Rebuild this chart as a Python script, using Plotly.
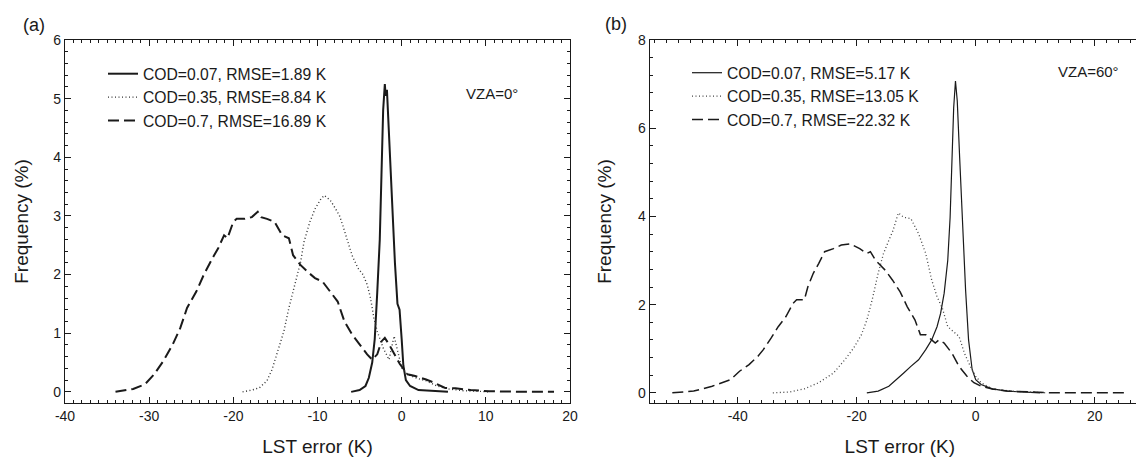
import plotly.graph_objects as go

W, H = 1144, 459

# ---------------- data: panel (a) VZA=0 ----------------
A_SOLID_X = [-6.0, -5.0, -4.3, -3.9, -3.5, -3.2, -2.9, -2.6, -2.4, -2.2, -2.0, -1.9, -1.75, -1.5, -1.2,
             -0.8, -0.5, -0.25, 0.0, 0.2, 0.5, 1.0, 2.0, 4.0, 5.5]
A_SOLID_Y = [0, 0.03, 0.1, 0.24, 0.5, 0.9, 1.7, 2.6, 3.7, 4.8, 5.25, 5.05, 5.15, 4.4, 3.3,
             2.2, 1.5, 1.4, 0.9, 0.45, 0.2, 0.1, 0.03, 0.01, 0]

A_DOT_X = [-18.9, -17.8, -16.9, -16.0, -15.4, -14.7, -14.0, -13.4, -12.7, -12.0, -11.6, -10.9, -10.3, -9.6,
           -9.2, -8.5, -8.1, -7.4, -7.0, -6.5, -5.9, -5.2, -4.6, -4.1, -3.7, -3.3, -2.9, -2.2, -1.5, -0.9,
           -0.4, 0.0, 0.7, 1.6, 2.9, 4.2, 5.5, 7.3, 9.1, 10.4]
A_DOT_Y = [0, 0.03, 0.07, 0.19, 0.38, 0.69, 1.03, 1.43, 1.83, 2.22, 2.56, 2.9, 3.12, 3.29,
           3.35, 3.27, 3.18, 3.01, 2.84, 2.62, 2.33, 2.11, 2.0, 1.83, 1.6, 1.26, 1.03, 0.75, 0.55, 0.95,
           0.64, 0.41, 0.3, 0.24, 0.19, 0.1, 0.05, 0.02, 0.01, 0]

A_DASH_X = [-34.0, -31.9, -30.5, -29.4, -28.3, -27.2, -26.3, -25.5, -24.4, -23.5, -22.4, -21.8, -21.1,
            -20.7, -20.0, -19.6, -18.7, -17.8, -17.1, -16.7, -16.0, -15.1, -14.2, -13.4, -12.9, -12.0,
            -11.2, -10.3, -9.4, -8.5, -7.6, -6.8, -5.9, -5.0, -4.1, -3.5, -2.9, -2.4, -2.0, -1.5, -0.9,
            -0.2, 0.7, 1.6, 2.9, 3.8, 5.1, 6.4, 8.2, 10.4, 14.8, 18.1]
A_DASH_Y = [0, 0.05, 0.13, 0.3, 0.53, 0.81, 1.09, 1.43, 1.71, 2.0, 2.3, 2.45, 2.67,
            2.62, 2.9, 2.95, 2.95, 2.98, 3.07, 2.98, 2.95, 2.9, 2.67, 2.62, 2.33, 2.16,
            2.05, 1.94, 1.88, 1.71, 1.54, 1.2, 0.98, 0.81, 0.64, 0.55, 0.64, 0.86, 0.92, 0.81, 0.64,
            0.47, 0.3, 0.27, 0.21, 0.16, 0.07, 0.06, 0.03, 0.01, 0, 0]

A_NAMES = ["COD=0.07, RMSE=1.89 K", "COD=0.35, RMSE=8.84 K", "COD=0.7, RMSE=16.89 K"]
A_XTICKS = [-40, -30, -20, -10, 0, 10, 20]
A_XTICK_TEXT = ["-40", "-30", "-20", "-10", "0", "10", "20"]
A_YTICKS = [0, 1, 2, 3, 4, 5, 6]

# ---------------- data: panel (b) VZA=60 ----------------
B_SOLID_X = [-18.3, -16.4, -14.6, -13.3, -12.1, -10.9, -9.6, -8.4, -7.4, -6.5, -5.9, -5.3, -4.7, -4.3,
             -4.0, -3.7, -3.4, -3.1, -2.7, -2.2, -1.7, -1.2, -0.6, 0.0, 0.9, 2.8, 5.3, 7.7, 10.8]
B_SOLID_Y = [0, 0.04, 0.15, 0.3, 0.45, 0.6, 0.75, 0.98, 1.2, 1.5, 1.8, 2.26, 3.0, 3.98,
             5.34, 6.47, 7.07, 6.62, 5.34, 3.83, 2.33, 1.2, 0.53, 0.3, 0.19, 0.09, 0.04, 0.02, 0]

B_DOT_X = [-34.1, -31.3, -28.8, -26.4, -23.9, -22.0, -20.5, -19.2, -18.3, -17.4, -16.4, -15.5, -14.6,
           -13.9, -13.0, -12.1, -10.9, -9.6, -8.4, -7.4, -6.5, -5.6, -4.7, -3.7, -2.8, -1.9, -0.9, 0.0,
           0.9, 2.8, 5.9, 9.0, 12.1]
B_DOT_Y = [0, 0.02, 0.09, 0.23, 0.45, 0.75, 1.02, 1.32, 1.65, 2.11, 2.71, 3.16, 3.46,
           3.68, 4.08, 3.98, 3.95, 3.61, 3.16, 2.56, 2.18, 1.92, 1.5, 1.39, 1.28, 0.9, 0.6, 0.38,
           0.23, 0.09, 0.04, 0.02, 0]

B_DASH_X = [-51.0, -47.4, -44.3, -41.2, -39.7, -38.1, -36.6, -35.7, -34.4, -33.2, -31.9, -30.7, -30.1,
            -28.8, -28.2, -27.3, -26.4, -25.4, -23.9, -22.6, -21.1, -19.5, -18.3, -17.7, -16.8, -15.2,
            -14.0, -12.7, -11.5, -10.2, -9.3, -8.4, -7.4, -6.8, -6.2, -5.3, -4.0, -2.8, -1.5, -0.3,
            0.9, 2.8, 5.3, 8.4, 13.3, 25.7]
B_DASH_Y = [0, 0.04, 0.15, 0.3, 0.49, 0.64, 0.83, 0.98, 1.24, 1.5, 1.73, 2.03, 2.11,
            2.11, 2.41, 2.71, 2.93, 3.2, 3.27, 3.35, 3.38, 3.27, 3.16, 3.2, 3.0, 2.78,
            2.56, 2.29, 1.95, 1.65, 1.32, 1.32, 1.2, 1.13, 1.2, 1.13, 0.9, 0.6, 0.38, 0.23,
            0.15, 0.09, 0.04, 0.02, 0, 0]

B_NAMES = ["COD=0.07, RMSE=5.17 K", "COD=0.35, RMSE=13.05 K", "COD=0.7, RMSE=22.32 K"]
B_XTICKS = [-40, -20, 0, 20]
B_XTICK_TEXT = ["-40", "-20", "0", "20"]
B_YTICKS = [0, 2, 4, 6, 8]

X_TITLE = "LST error (K)"
Y_TITLE = "Frequency (%)"
PANEL_LABELS = ["(a)", "(b)"]
VZA_LABELS = ["VZA=0°", "VZA=60°"]

FONT = "Arial, 'Liberation Sans', sans-serif"
INK = "#1a1a1a"

fig = go.Figure()

def add(x, y, name, dash, width, xa, ya, leg, color=INK):
    fig.add_trace(go.Scatter(x=x, y=y, mode="lines", name=name,
                             line=dict(color=color, width=width, dash=dash),
                             xaxis=xa, yaxis=ya, legend=leg, hoverinfo="x+y"))

add(A_SOLID_X, A_SOLID_Y, A_NAMES[0], "solid", 2.0, "x", "y", "legend")
add(A_DOT_X, A_DOT_Y, A_NAMES[1], "1px,2.5px", 1.4, "x", "y", "legend", "#333")
add(A_DASH_X, A_DASH_Y, A_NAMES[2], "11px,5px", 2.0, "x", "y", "legend")

add(B_SOLID_X, B_SOLID_Y, B_NAMES[0], "solid", 1.2, "x2", "y2", "legend2")
add(B_DOT_X, B_DOT_Y, B_NAMES[1], "1px,2.5px", 1.3, "x2", "y2", "legend2", "#444")
add(B_DASH_X, B_DASH_Y, B_NAMES[2], "11px,5px", 1.5, "x2", "y2", "legend2")

ydom = [1 - 395 / H, 1 - 32 / H]

def axis_common():
    return dict(showline=True, linecolor=INK, linewidth=1.3, mirror="allticks",
                ticks="inside", ticklen=6, tickwidth=1, tickcolor=INK,
                showgrid=False, zeroline=False, automargin=False,
                tickfont=dict(family=FONT, size=14, color=INK),
                title_font=dict(family=FONT, size=19, color=INK))

fig.update_layout(
    template="none",
    width=W, height=H,
    margin=dict(l=0, r=0, t=0, b=0, pad=0, autoexpand=False),
    paper_bgcolor="white", plot_bgcolor="white",
    font=dict(family=FONT, color=INK),
    showlegend=True,
    xaxis=dict(domain=[57 / W, 562 / W], range=[-40, 20], anchor="y",
               tickvals=A_XTICKS, ticktext=A_XTICK_TEXT,
               minor=dict(ticks="inside", ticklen=3, dtick=1, tick0=0, tickcolor=INK, showgrid=False),
               title=dict(text=X_TITLE, standoff=16),
               **axis_common()),
    yaxis=dict(domain=ydom, range=[-0.19, 6], anchor="x",
               tickvals=A_YTICKS,
               minor=dict(ticks="inside", ticklen=3, dtick=0.2, tick0=0, tickcolor=INK, showgrid=False),
               title=dict(text=Y_TITLE, standoff=19),
               **axis_common()),
    xaxis2=dict(domain=[641.7 / W, 1142 / W], range=[-54.8, 29.3], anchor="y2",
                tickvals=B_XTICKS, ticktext=B_XTICK_TEXT,
                minor=dict(ticks="inside", ticklen=3, dtick=2, tick0=0, tickcolor=INK, showgrid=False),
                title=dict(text=X_TITLE, standoff=16),
                **axis_common()),
    yaxis2=dict(domain=ydom, range=[-0.23, 8], anchor="x2",
                tickvals=B_YTICKS,
                minor=dict(ticks="inside", ticklen=3, dtick=0.4, tick0=0, tickcolor=INK, showgrid=False),
                title=dict(text=Y_TITLE, standoff=21),
                **axis_common()),
    legend=dict(x=95 / W, y=1 - 49 / H, xanchor="left", yanchor="top",
                bgcolor="rgba(0,0,0,0)", borderwidth=0,
                font=dict(family=FONT, size=15.7, color=INK), tracegroupgap=0),
    legend2=dict(x=679 / W, y=1 - 48 / H, xanchor="left", yanchor="top",
                 bgcolor="rgba(0,0,0,0)", borderwidth=0,
                 font=dict(family=FONT, size=15.7, color=INK), tracegroupgap=0),
)

annots = [
    dict(text=PANEL_LABELS[0], x=26 / W, y=1 - 17 / H),
    dict(text=PANEL_LABELS[1], x=608 / W, y=1 - 16 / H),
]
for a in annots:
    fig.add_annotation(xref="paper", yref="paper", x=a["x"], y=a["y"], text=a["text"],
                       showarrow=False, xanchor="center", yanchor="middle",
                       font=dict(family=FONT, size=18, color=INK))

fig.add_annotation(xref="paper", yref="paper", x=483.5 / W, y=1 - 86 / H, text=VZA_LABELS[0],
                   showarrow=False, xanchor="center", yanchor="middle",
                   font=dict(family=FONT, size=15, color=INK))
fig.add_annotation(xref="paper", yref="paper", x=1080 / W, y=1 - 64 / H, text=VZA_LABELS[1],
                   showarrow=False, xanchor="center", yanchor="middle",
                   font=dict(family=FONT, size=15, color=INK))

fig.write_html("out.html")
